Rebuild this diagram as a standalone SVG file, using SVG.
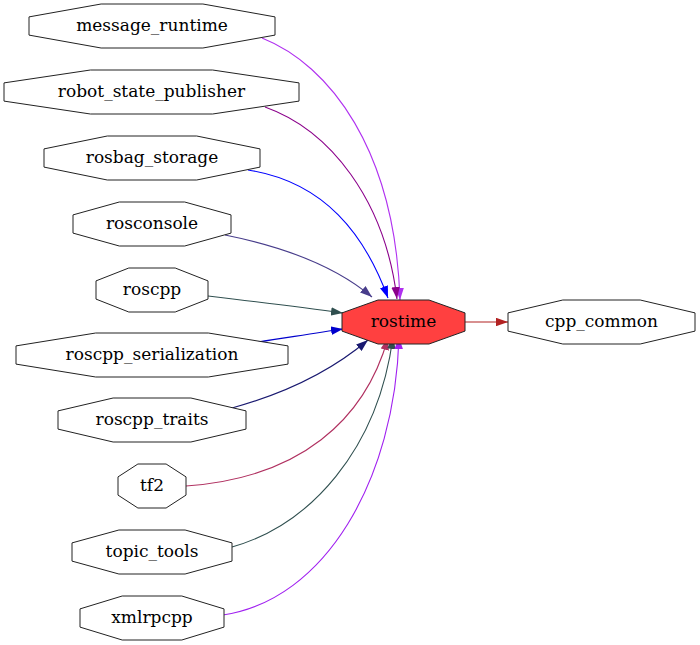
<svg xmlns="http://www.w3.org/2000/svg" width="700" height="645" viewBox="0 0 700 645">
<style>
.n polygon{fill:#ffffff;stroke:#222222;stroke-width:1}
#rostime polygon{fill:#ff4040}
.n text{font-family:"DejaVu Serif","Liberation Serif",serif;font-size:17px;fill:#000000;text-anchor:middle}
.e path{fill:none;stroke-width:1.1}
</style>
<defs>
<marker id="m1" viewBox="0 0 12 8.5" refX="12" refY="4.25" markerWidth="12" markerHeight="8.5" markerUnits="userSpaceOnUse" orient="auto"><path d="M0,0L12,4.25L0,8.5z" fill="#b030f0"/></marker>
<marker id="m2" viewBox="0 0 12 8.5" refX="12" refY="4.25" markerWidth="12" markerHeight="8.5" markerUnits="userSpaceOnUse" orient="auto"><path d="M0,0L12,4.25L0,8.5z" fill="#8b008b"/></marker>
<marker id="m3" viewBox="0 0 12 8.5" refX="12" refY="4.25" markerWidth="12" markerHeight="8.5" markerUnits="userSpaceOnUse" orient="auto"><path d="M0,0L12,4.25L0,8.5z" fill="#0000ff"/></marker>
<marker id="m4" viewBox="0 0 12 8.5" refX="12" refY="4.25" markerWidth="12" markerHeight="8.5" markerUnits="userSpaceOnUse" orient="auto"><path d="M0,0L12,4.25L0,8.5z" fill="#483d8b"/></marker>
<marker id="m5" viewBox="0 0 12 8.5" refX="12" refY="4.25" markerWidth="12" markerHeight="8.5" markerUnits="userSpaceOnUse" orient="auto"><path d="M0,0L12,4.25L0,8.5z" fill="#2f4f4f"/></marker>
<marker id="m6" viewBox="0 0 12 8.5" refX="12" refY="4.25" markerWidth="12" markerHeight="8.5" markerUnits="userSpaceOnUse" orient="auto"><path d="M0,0L12,4.25L0,8.5z" fill="#0000cd"/></marker>
<marker id="m7" viewBox="0 0 12 8.5" refX="12" refY="4.25" markerWidth="12" markerHeight="8.5" markerUnits="userSpaceOnUse" orient="auto"><path d="M0,0L12,4.25L0,8.5z" fill="#191970"/></marker>
<marker id="m8" viewBox="0 0 12 8.5" refX="12" refY="4.25" markerWidth="12" markerHeight="8.5" markerUnits="userSpaceOnUse" orient="auto"><path d="M0,0L12,4.25L0,8.5z" fill="#b03060"/></marker>
<marker id="m9" viewBox="0 0 12 8.5" refX="12" refY="4.25" markerWidth="12" markerHeight="8.5" markerUnits="userSpaceOnUse" orient="auto"><path d="M0,0L12,4.25L0,8.5z" fill="#a020f0"/></marker>
<marker id="m10" viewBox="0 0 12 8.5" refX="12" refY="4.25" markerWidth="12" markerHeight="8.5" markerUnits="userSpaceOnUse" orient="auto"><path d="M0,0L12,4.25L0,8.5z" fill="#b22222"/></marker>
</defs>
<g id="connectors" class="e">
<path d="M262,38 C330,65 395,150 400,300" stroke="#b030f0" marker-end="url(#m1)"/>
<path d="M265,107 C330,130 385,200 397,299" stroke="#8b008b" marker-end="url(#m2)"/>
<path d="M248,170 C325,182 365,235 388,298" stroke="#0000ff" marker-end="url(#m3)"/>
<path d="M225,235 C290,248 340,270 372,297" stroke="#483d8b" marker-end="url(#m4)"/>
<path d="M208,296 C250,301 300,307 343,313" stroke="#2f4f4f" marker-end="url(#m5)"/>
<path d="M258,342 C285,338 315,333 343,329" stroke="#0000cd" marker-end="url(#m6)"/>
<path d="M232,408 C290,392 335,368 368,340" stroke="#191970" marker-end="url(#m7)"/>
<path d="M186,486 C300,478 365,420 388,338" stroke="#b03060" marker-end="url(#m8)"/>
<path d="M232,547 C310,525 378,450 393,337" stroke="#2f4f4f" marker-end="url(#m5)"/>
<path d="M223,615 C325,600 395,480 399,337" stroke="#a020f0" marker-end="url(#m9)"/>
<path d="M465,322 L508,322" stroke="#b22222" marker-end="url(#m10)"/>
</g>
<g id="message_runtime" class="n"><polygon points="101.1,4 202.9,4 275,16.9 275,35.1 202.9,48 101.1,48 29,35.1 29,16.9"/><text x="152" y="31">message_runtime</text></g>
<g id="robot_state_publisher" class="n"><polygon points="90.4,70 212.6,70 299,82.9 299,101.1 212.6,114 90.4,114 4,101.1 4,82.9"/><text x="151.5" y="97">robot_state_publisher</text></g>
<g id="rosbag_storage" class="n"><polygon points="107.3,136 196.7,136 260,148.9 260,167.1 196.7,180 107.3,180 44,167.1 44,148.9"/><text x="152" y="163">rosbag_storage</text></g>
<g id="rosconsole" class="n"><polygon points="119.3,202 184.7,202 231,214.9 231,233.1 184.7,246 119.3,246 73,233.1 73,214.9"/><text x="152" y="229">rosconsole</text></g>
<g id="roscpp" class="n"><polygon points="128.8,268 175.2,268 208,280.9 208,299.1 175.2,312 128.8,312 96,299.1 96,280.9"/><text x="152" y="295">roscpp</text></g>
<g id="roscpp_serialization" class="n"><polygon points="95.7,333 208.3,333 288,345.9 288,364.1 208.3,377 95.7,377 16,364.1 16,345.9"/><text x="152" y="360">roscpp_serialization</text></g>
<g id="roscpp_traits" class="n"><polygon points="113.1,398 190.9,398 246,410.9 246,429.1 190.9,442 113.1,442 58,429.1 58,410.9"/><text x="152" y="425">roscpp_traits</text></g>
<g id="tf2" class="n"><polygon points="137.9,464 166.1,464 186,476.9 186,495.1 166.1,508 137.9,508 118,495.1 118,476.9"/><text x="152" y="491">tf2</text></g>
<g id="topic_tools" class="n"><polygon points="118.9,530 185.1,530 232,542.9 232,561.1 185.1,574 118.9,574 72,561.1 72,542.9"/><text x="152" y="557">topic_tools</text></g>
<g id="xmlrpcpp" class="n"><polygon points="122.2,596 181.8,596 224,608.9 224,627.1 181.8,640 122.2,640 80,627.1 80,608.9"/><text x="152" y="623">xmlrpcpp</text></g>
<g id="rostime" class="n"><polygon points="378,300 429,300 465,312.9 465,331.1 429,344 378,344 342,331.1 342,312.9"/><text x="403.5" y="327">rostime</text></g>
<g id="cpp_common" class="n"><polygon points="562.8,300 640.2,300 695,312.9 695,331.1 640.2,344 562.8,344 508,331.1 508,312.9"/><text x="601.5" y="327">cpp_common</text></g>
</svg>
